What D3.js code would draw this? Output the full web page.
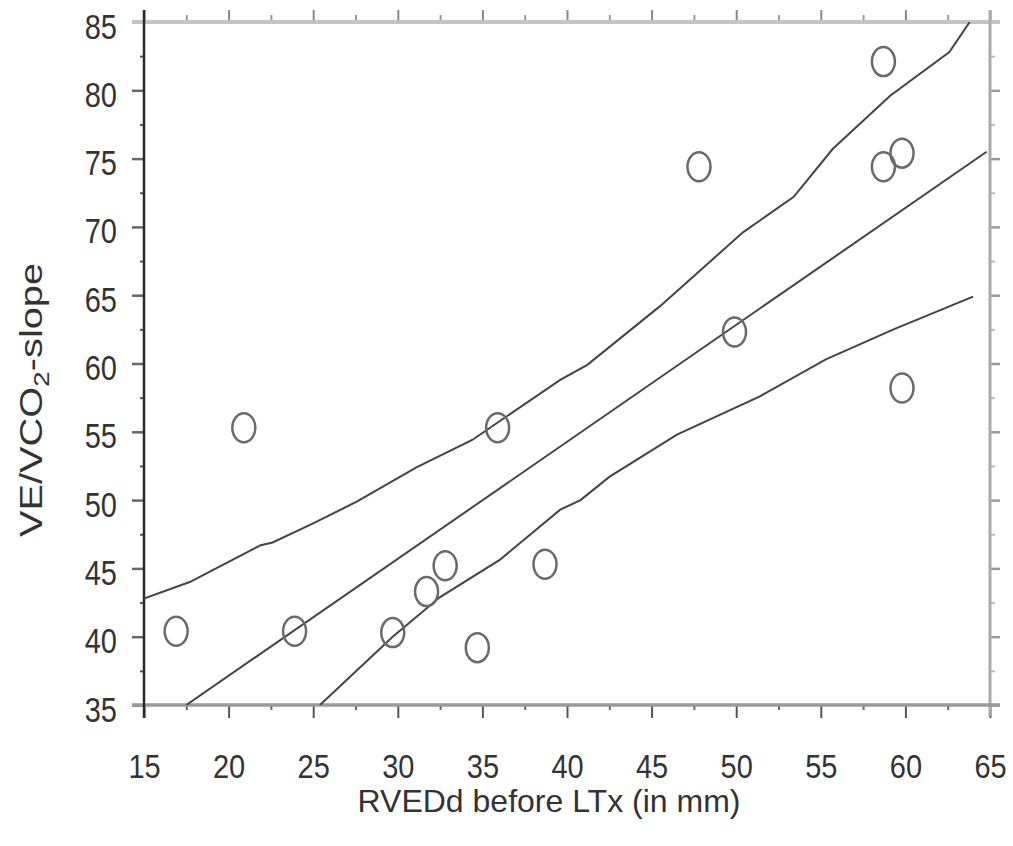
<!DOCTYPE html>
<html>
<head>
<meta charset="utf-8">
<script src="https://cdn.jsdelivr.net/npm/d3@7"></script>
<style>
  html, body { margin: 0; padding: 0; background: #fff; }
  svg { display: block; }
  text { font-family: "Liberation Sans", Arial, sans-serif; fill: #333; }
</style>
</head>
<body>
<svg id="chart" width="1013" height="846"></svg>
<script>
// RVEDd (mm) vs VE/VCO2-slope, one circle per patient
const rvedd = [16.9, 20.9, 23.9, 29.7, 31.7, 32.8, 34.7, 35.9, 38.7, 47.8, 49.9, 58.7, 58.7, 59.8, 59.8];
const slope = [40.4, 55.3, 40.4, 40.3, 43.3, 45.2, 39.2, 55.3, 45.3, 74.4, 62.3, 82.1, 74.4, 75.4, 58.2];

// linear fit
const fitX = [17.5, 64.8];
const fitY = [35.0, 75.5];

// upper confidence band
const upperX = [15, 17.7, 21.9, 22.6, 25.0, 27.6, 31.1, 34.4, 36.4, 39.6, 41.2, 45.5, 50.4, 53.4, 55.7, 59.1, 62.6, 63.8];
const upperY = [42.8, 44.0, 46.7, 46.9, 48.3, 49.9, 52.4, 54.4, 56.1, 58.8, 59.9, 64.2, 69.6, 72.2, 75.7, 79.6, 82.8, 85.0];

// lower confidence band
const lowerX = [25.4, 29.7, 32.5, 36.0, 39.6, 40.8, 42.5, 46.5, 51.4, 55.3, 59.3, 64.0];
const lowerY = [35.0, 40.0, 42.9, 45.6, 49.3, 50.0, 51.7, 54.8, 57.6, 60.3, 62.5, 64.9];

const xTicks = [15, 20, 25, 30, 35, 40, 45, 50, 55, 60, 65];
const yTicks = [35, 40, 45, 50, 55, 60, 65, 70, 75, 80, 85];
const xMinor = d3.range(17.5, 65, 5);
const yMinor = d3.range(37.5, 85, 5);

const svg = d3.select("#chart");
const L = 144, R = 990, T = 22, B = 705;

const x = d3.scaleLinear().domain([15, 65]).range([L, R]);
const y = d3.scaleLinear().domain([35, 85]).range([B, T]);

svg.append("defs").append("clipPath").attr("id", "plot")
  .append("rect").attr("x", L).attr("y", T).attr("width", R - L).attr("height", B - T);

// frame edges (top, right, bottom in grey, left in dark)
function axisGroup(axis, tx, ty, color, width) {
  const g = svg.append("g").attr("transform", `translate(${tx},${ty})`).call(axis);
  g.select(".domain").remove();
  g.selectAll(".tick line").attr("stroke", color).attr("stroke-width", width);
  return g;
}

// minor ticks
axisGroup(d3.axisTop(x).tickValues(xMinor).tickSize(7).tickFormat(""), 0, T, "#999", 2);
axisGroup(d3.axisBottom(x).tickValues(xMinor).tickSize(5).tickFormat(""), 0, B, "#666", 2);
axisGroup(d3.axisLeft(y).tickValues(yMinor).tickSize(4).tickFormat(""), L, 0, "#555", 2);
axisGroup(d3.axisRight(y).tickValues(yMinor).tickSize(5).tickFormat(""), R, 0, "#bbb", 2);

// major ticks
axisGroup(d3.axisTop(x).tickValues(xTicks).tickSize(12).tickFormat(""), 0, T, "#888", 2);
axisGroup(d3.axisRight(y).tickValues(yTicks).tickSize(10).tickFormat(""), R, 0, "#999", 2.5);

const gx = axisGroup(d3.axisBottom(x).tickValues(xTicks).tickSize(13).tickFormat(d3.format("d")), 0, B, "#555", 2);
gx.selectAll(".tick text")
  .attr("y", null).attr("dy", null)
  .attr("transform", "translate(0,778) scale(1,1.15)".replace("778", 778 - B))
  .attr("fill", "#333")
  .style("font-size", "29px");

const gy = axisGroup(d3.axisLeft(y).tickValues(yTicks).tickSize(12).tickFormat(d3.format("d")), L, 0, "#666", 2.5);
gy.selectAll(".tick text")
  .attr("x", null).attr("dy", null)
  .attr("transform", "translate(-27,16) scale(1,1.2)")
  .attr("fill", "#333")
  .style("font-size", "29px");

svg.selectAll(".tick text").attr("font-family", null).attr("font-size", null);
svg.selectAll("g").attr("font-family", null).attr("font-size", null);

// frame lines
svg.append("line").attr("x1", 132).attr("x2", 1000).attr("y1", T).attr("y2", T)
  .attr("stroke", "#c4c4c4").attr("stroke-width", 4);
svg.append("line").attr("x1", R).attr("x2", R).attr("y1", 10).attr("y2", 716)
  .attr("stroke", "#aaa").attr("stroke-width", 3);
svg.append("line").attr("x1", 132).attr("x2", 1000).attr("y1", B).attr("y2", B)
  .attr("stroke", "#9a9a9a").attr("stroke-width", 3.5);
svg.append("line").attr("x1", L).attr("x2", L).attr("y1", 10).attr("y2", 718)
  .attr("stroke", "#2a2a2a").attr("stroke-width", 2.5);

// fit and confidence bands
const line = d3.line().x(d => x(d[0])).y(d => y(d[1]));
const plot = svg.append("g").attr("clip-path", "url(#plot)");
[[fitX, fitY], [upperX, upperY], [lowerX, lowerY]].forEach(([xs, ys]) => {
  plot.append("path")
    .attr("d", line(xs.map((v, i) => [v, ys[i]])))
    .attr("fill", "none")
    .attr("stroke", "#444")
    .attr("stroke-width", 2);
});

// observations
svg.append("g").selectAll("ellipse")
  .data(rvedd.map((v, i) => [v, slope[i]]))
  .join("ellipse")
  .attr("cx", d => x(d[0]))
  .attr("cy", d => y(d[1]))
  .attr("rx", 11.5)
  .attr("ry", 14.5)
  .attr("fill", "none")
  .attr("stroke", "#6a6a6a")
  .attr("stroke-width", 2.5);

// axis titles
svg.append("text")
  .attr("x", 549).attr("y", 812)
  .attr("text-anchor", "middle")
  .style("font-size", "32px")
  .text("RVEDd before LTx (in mm)");

const yt = svg.append("text")
  .attr("transform", "translate(42,400) rotate(-90)")
  .attr("text-anchor", "middle")
  .attr("textLength", 274)
  .attr("lengthAdjust", "spacingAndGlyphs")
  .style("font-size", "31px");
yt.append("tspan").text("VE/VCO");
yt.append("tspan").attr("dy", 7).style("font-size", "22px").text("2");
yt.append("tspan").attr("dy", -7).text("-slope");
</script>
</body>
</html>
